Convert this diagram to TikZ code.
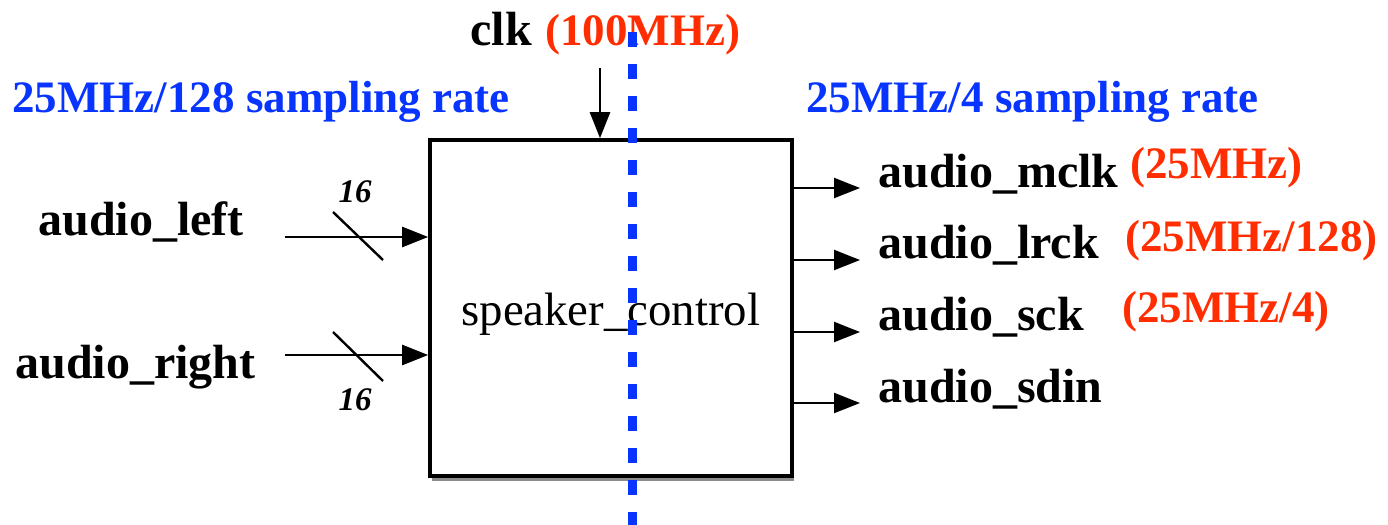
\documentclass[tikz,border=0pt]{standalone}
\usepackage{fontspec}
\setmainfont{Liberation Serif}
\usetikzlibrary{arrows.meta,shadows}

\definecolor{rateblue}{RGB}{8,52,255}
\definecolor{freqred}{RGB}{255,45,0}

\begin{document}
\begin{tikzpicture}[x=0.5pt, y=-0.5pt,
    sig/.style={inner sep=0pt, anchor=base west, font=\bfseries\fontsize{24}{28}\selectfont},
    freq/.style={sig, font=\bfseries\fontsize{22.5}{27}\selectfont, text=freqred},
    rate/.style={sig, font=\bfseries\fontsize{22.5}{27}\selectfont, text=rateblue},
    width/.style={inner sep=0pt, anchor=base, font=\bfseries\itshape\fontsize{16.5}{20}\selectfont},
    wire/.style={line width=1.2pt, -{Triangle[length=13pt, width=10pt]}},
    block/.style={draw, line width=1.8pt, fill=white, minimum width=181pt, minimum height=168pt,
      drop shadow={shadow xshift=1pt, shadow yshift=-2.5pt, fill=black, opacity=0.45}}]
    \useasboundingbox (0,0) rectangle (1388,525);

    % Nodes
    \node (spk) [block] at (611,308) {};
    \node (spklbl) [sig, font=\fontsize{23.4}{28}\selectfont] at (461,325) {speaker\_control};
    \node (clk) [sig] at (470,45) {clk};
    \node (clkf) [freq] at (545,45) {(100MHz)};
    \node (inrate) [rate] at (12,112) {25MHz/128 sampling rate};
    \node (outrate) [rate] at (806,112) {25MHz/4 sampling rate};
    \node (left) [sig] at (38,235) {audio\_left};
    \node (right) [sig] at (15,378) {audio\_right};
    \node (wl) [width] at (355,202) {16};
    \node (wr) [width] at (355,410) {16};
    \node (mclk) [sig] at (878,187) {audio\_mclk};
    \node (lrck) [sig] at (878,258) {audio\_lrck};
    \node (sck) [sig] at (878,330) {audio\_sck};
    \node (sdin) [sig] at (878,402) {audio\_sdin};
    \node (mclkf) [freq] at (1130,178) {(25MHz)};
    \node (lrckf) [freq] at (1125,251) {(25MHz/128)};
    \node (sckf) [freq] at (1122,322) {(25MHz/4)};

    % Wire ends
    \coordinate (clkin) at (600,68);
    \coordinate (lin) at (285,237);
    \coordinate (rin) at (285,355);
    \coordinate (mclkout) at (860,188);
    \coordinate (lrckout) at (860,260);
    \coordinate (sckout) at (860,332);
    \coordinate (sdinout) at (860,403);

    % Paths
    \draw[wire] (clkin) -- (clkin |- spk.north);
    \draw[wire] (lin) -- (lin -| spk.west);
    \draw[wire] (rin) -- (rin -| spk.west);
    \draw[line width=1.2pt] (333,212) -- (383,260);
    \draw[line width=1.2pt] (333,332) -- (383,381);
    \foreach \o in {mclkout, lrckout, sckout, sdinout}
      \draw[wire] (\o -| spk.east) -- (\o);

    % Divider
    \draw[rateblue, line width=4.5pt, dash pattern=on 7.5pt off 8.5pt] (632,32) -- (632,525);
  \end{tikzpicture}
\end{document}
